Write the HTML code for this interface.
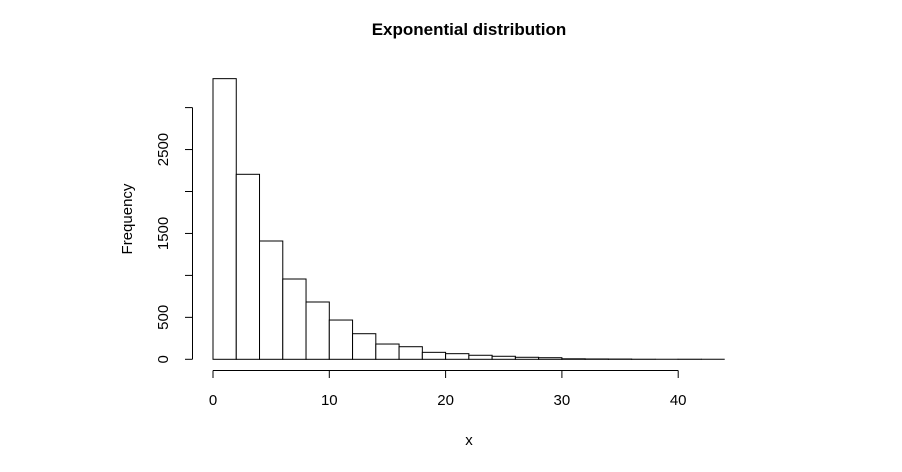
<!DOCTYPE html>
<html><head><meta charset="utf-8"><style>
body{margin:0;background:#fff;}
svg{display:block;font-family:"Liberation Sans",Arial,sans-serif;}
</style></head><body>
<svg id="c" width="902" height="472">
<text x="469" y="35" text-anchor="middle" font-weight="bold" font-size="17">Exponential distribution</text>
<text x="469" y="445" text-anchor="middle" font-size="15">x</text>
<text transform="translate(132,219) rotate(-90)" text-anchor="middle" font-size="15">Frequency</text>
<g id="bars"></g>
<g id="xa"></g>
<g id="ya"></g>
</svg>
<script>
const binStarts=[0,2,4,6,8,10,12,14,16,18,20,22,24,26,28,30,32,34,36,38,40,42];
const counts=[3345,2205,1410,957,683,468,305,182,150,83,67,48,36,24,19,6,4,3,1,0,1,0];
const binWidth=2;
const xTicks=[0,10,20,30,40];
const yTicks=[0,500,1000,1500,2000,2500,3000];
const yLabels=["0","500","","1500","","2500",""];
const NS="http://www.w3.org/2000/svg";
const sx=v=>213+v*11.63;
const sy=v=>359.3-v*0.0839;
function mk(t,a,p){const e=document.createElementNS(NS,t);for(const k in a)e.setAttribute(k,a[k]);p.appendChild(e);return e;}
const bars=document.getElementById('bars');
binStarts.forEach((b,i)=>{
  let r;
  if(counts[i]>0){
    r=mk('rect',{x:sx(b),y:sy(counts[i]),width:sx(b+binWidth)-sx(b),height:sy(0)-sy(counts[i]),fill:'#fff',stroke:'#000','stroke-width':1},bars);
  }else{
    r=mk('line',{x1:sx(b),x2:sx(b+binWidth),y1:sy(0),y2:sy(0),stroke:'#000','stroke-width':1},bars);
  }
  
  
});
const xa=document.getElementById('xa');
mk('line',{x1:sx(xTicks[0]),x2:sx(xTicks[xTicks.length-1]),y1:370.5,y2:370.5,stroke:'#000'},xa);
xTicks.forEach(t=>{
  mk('line',{x1:sx(t),x2:sx(t),y1:370.5,y2:378,stroke:'#000'},xa);
  const tx=mk('text',{x:sx(t),y:405,'text-anchor':'middle','font-size':15},xa);
  tx.textContent=t;
  
  
});
const ya=document.getElementById('ya');
mk('line',{x1:192.5,x2:192.5,y1:sy(yTicks[0]),y2:sy(yTicks[yTicks.length-1]),stroke:'#000'},ya);
yTicks.forEach((t,i)=>{
  mk('line',{x1:185,x2:192.5,y1:sy(t),y2:sy(t),stroke:'#000'},ya);
  if(yLabels[i]){
    const tx=mk('text',{transform:`translate(168,${sy(t)}) rotate(-90)`,'text-anchor':'middle','font-size':15},ya);
    tx.textContent=yLabels[i];
    
    
  }
});
</script>
</body></html>
